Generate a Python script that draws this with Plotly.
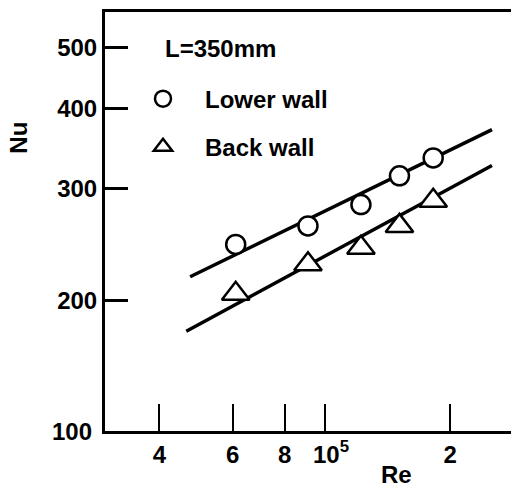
import plotly.graph_objects as go

# Data (Re, Nu)
re_pts = [6.1e4, 9.1e4, 1.22e5, 1.51e5, 1.82e5]
nu_lower = [245, 262, 283, 314, 335]
nu_back = [205, 228, 242, 262, 287]

# Fitted lines (end points)
fit_re_lower = [4.74e4, 2.52e5]
fit_nu_lower = [218, 371]
fit_re_back = [4.64e4, 2.52e5]
fit_nu_back = [179, 326]

x_tickvals = [4e4, 6e4, 8e4, 1e5, 2e5]
x_ticktext = ["4", "6", "8", "\u200210<sup>5</sup>", "2"]
y_tickvals = [200, 300, 400, 500]
y_ticktext = ["200", "300", "400", "500"]

FONT = "Liberation Sans, Arial, sans-serif"
FS = 24
F = dict(size=FS, family=FONT, color="black", weight="bold")

fig = go.Figure()
fig.add_trace(go.Scatter(x=fit_re_lower, y=fit_nu_lower, mode="lines",
                         line=dict(color="black", width=3.5), showlegend=False))
fig.add_trace(go.Scatter(x=fit_re_back, y=fit_nu_back, mode="lines",
                         line=dict(color="black", width=3.5), showlegend=False))
fig.add_trace(go.Scatter(x=re_pts, y=nu_lower, mode="markers", name="Lower wall",
                         legendgroup="a",
                         marker=dict(symbol="circle", size=19, color="white",
                                     line=dict(color="black", width=2.5))))
fig.add_trace(go.Scatter(x=re_pts, y=nu_back, mode="markers", name="Back wall",
                         legendgroup="b",
                         marker=dict(symbol="triangle-up", size=24, color="white",
                                     line=dict(color="black", width=2.5))))

fig.update_layout(
    width=511, height=487,
    margin=dict(l=105, r=0, t=12, b=56),
    paper_bgcolor="white", plot_bgcolor="white",
    font=F,
    showlegend=True,
    legend=dict(x=0.0394, y=0.846, xanchor="left", yanchor="top",
                bgcolor="rgba(0,0,0,0)", borderwidth=0, itemwidth=74,
                tracegroupgap=14, font=F),
    xaxis=dict(type="log", range=[4.4711, 5.4471],
               tickvals=x_tickvals, ticktext=x_ticktext,
               ticks="inside", ticklen=27, tickwidth=2, tickcolor="black",
               showline=True, linecolor="black", linewidth=2.5, mirror=True,
               showgrid=False, zeroline=False, tickfont=F),
    yaxis=dict(type="log", range=[2.0963, 2.7541],
               tickvals=y_tickvals, ticktext=y_ticktext,
               ticks="inside", ticklen=23, tickwidth=2.5, tickcolor="black",
               showline=True, linecolor="black", linewidth=3, mirror=False,
               showgrid=False, zeroline=False, tickfont=F),
    annotations=[
        dict(text="L=350mm", xref="paper", yref="paper", x=0.142, y=0.913,
             xanchor="left", yanchor="middle", showarrow=False, font=F),
        dict(text="100", xref="paper", yref="paper", x=-0.027, y=0.0,
             xanchor="right", yanchor="middle", showarrow=False, font=F),
        dict(text="Nu", xref="paper", yref="paper", x=-0.212, y=0.700,
             xanchor="center", yanchor="middle", showarrow=False, textangle=-90,
             font=F),
        dict(text="Re", xref="paper", yref="paper", x=0.719, y=-0.104,
             xanchor="center", yanchor="middle", showarrow=False, font=F),
    ],
)

fig.write_html("out.html")
